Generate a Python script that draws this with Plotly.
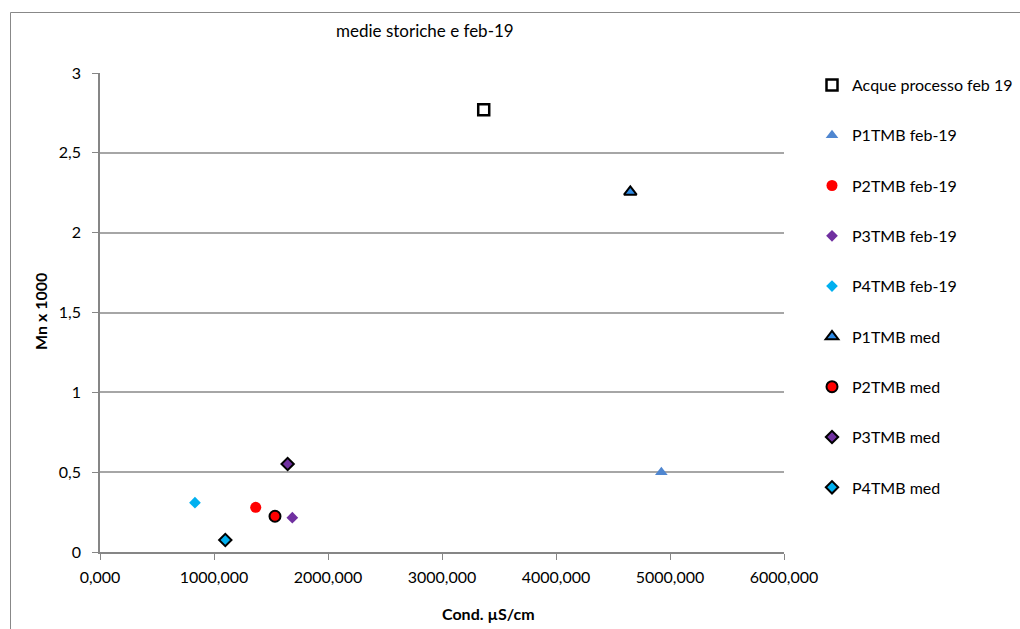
import plotly.graph_objects as go

# ---- data ----
series_names = ["Acque processo feb 19", "P1TMB feb-19", "P2TMB feb-19", "P3TMB feb-19",
                "P4TMB feb-19", "P1TMB med", "P2TMB med", "P3TMB med", "P4TMB med"]
cond_x = [3366000, 4924000, 1366000, 1687000, 833000, 4652000, 1535000, 1646000, 1099000]
mn_y = [2.77, 0.50, 0.28, 0.215, 0.309, 2.255, 0.224, 0.551, 0.075]

x_tickvals = [0, 1000000, 2000000, 3000000, 4000000, 5000000, 6000000]
x_ticktext = ["0,000", "1000,000", "2000,000", "3000,000", "4000,000", "5000,000", "6000,000"]
y_tickvals = [0, 0.5, 1, 1.5, 2, 2.5, 3]
y_ticktext = ["0", "0,5", "1", "1,5", "2", "2,5", "3"]

# ---- styles ----
styles = [
    dict(symbol="square-open", color="black", size=11, line=dict(color="black", width=2.5)),
    dict(symbol="triangle-up", color="#4F86D0", size=11, line=dict(width=0)),
    dict(symbol="circle", color="#FF0000", size=11, line=dict(width=0)),
    dict(symbol="diamond", color="#7030A0", size=9, line=dict(width=0)),
    dict(symbol="diamond", color="#00B0F0", size=9, line=dict(width=0)),
    dict(symbol="triangle-up", color="#2E8BE6", size=11, line=dict(color="black", width=2)),
    dict(symbol="circle", color="#FF0000", size=11, line=dict(color="black", width=2)),
    dict(symbol="diamond", color="#7030A0", size=9.5, line=dict(color="black", width=2)),
    dict(symbol="diamond", color="#00B0F0", size=9.5, line=dict(color="black", width=2)),
]

FONT = "Lato"
fig = go.Figure()
for i, name in enumerate(series_names):
    fig.add_trace(go.Scatter(
        x=[cond_x[i]], y=[mn_y[i]], mode="markers", name=name,
        legendgroup=f"g{i}", marker=styles[i],
    ))

L, R, T, B = 100, 236, 73, 77
W, H = 1020, 629
pw, ph = W - L - R, H - T - B

def px_x(p):
    return (p - L) / pw

def px_y(p):
    return (H - B - p) / ph

fig.update_layout(
    width=W, height=H,
    margin=dict(l=L, r=R, t=T, b=B, autoexpand=False),
    paper_bgcolor="white", plot_bgcolor="white",
    font=dict(family=FONT, size=16, color="black"),
    showlegend=True,
    legend=dict(x=px_x(812), y=px_y(68), xanchor="left", yanchor="top",
                font=dict(family=FONT, size=16, color="black"),
                tracegroupgap=26.5, itemwidth=30, bgcolor="rgba(0,0,0,0)",
                maxheight=600),
    xaxis=dict(range=[0, 6000000], tickvals=x_tickvals, ticktext=x_ticktext,
               showgrid=False, zeroline=False, showline=True, linecolor="#868686",
               linewidth=1.5, ticks="outside", ticklen=6, tickcolor="#868686",
               ticklabelstandoff=4,
               tickfont=dict(family=FONT, size=16)),
    yaxis=dict(range=[0, 3], tickvals=y_tickvals, ticktext=y_ticktext,
               showgrid=True, gridcolor="#A6A6A6", gridwidth=1.5, zeroline=False,
               showline=True, linecolor="#868686", linewidth=1.5,
               ticks="outside", ticklen=6, tickcolor="#868686",
               ticklabelstandoff=8,
               tickfont=dict(family=FONT, size=16)),
    annotations=[
        dict(text="medie storiche e feb-19", xref="paper", yref="paper",
             x=px_x(425), y=px_y(30), xanchor="center", yanchor="middle",
             showarrow=False, font=dict(family=FONT, size=17)),
        dict(text="<b>Cond. µS/cm</b>", xref="paper", yref="paper",
             x=px_x(488), y=px_y(613), xanchor="center", yanchor="middle",
             showarrow=False, font=dict(family=FONT, size=16)),
        dict(text="<b>Mn x 1000</b>", xref="paper", yref="paper", textangle=-90,
             x=px_x(40), y=px_y(312), xanchor="center", yanchor="middle",
             showarrow=False, font=dict(family=FONT, size=16)),
    ],
    shapes=[
        dict(type="line", xref="paper", yref="paper", x0=px_x(10.5), x1=px_x(10.5),
             y0=px_y(12.5), y1=px_y(640), line=dict(color="#888888", width=1)),
        dict(type="line", xref="paper", yref="paper", x0=px_x(10.5), x1=px_x(1030),
             y0=px_y(12.5), y1=px_y(12.5), line=dict(color="#888888", width=1)),
    ],
)

fig.write_html("out.html")
